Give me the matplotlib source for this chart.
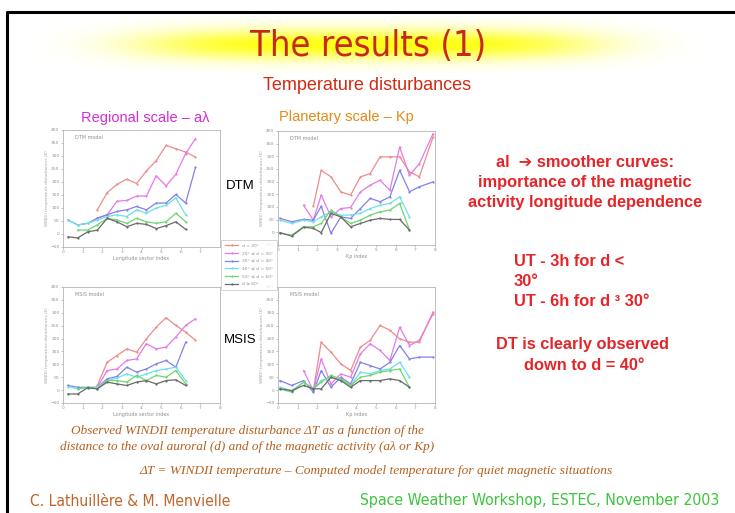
import numpy as np
import matplotlib
matplotlib.use("Agg")
import matplotlib.pyplot as plt

nan = np.nan

# abscisses communes
x_al = [0.25, 0.75, 1.25, 1.75, 2.25, 2.75, 3.25, 3.75, 4.25, 4.75, 5.25, 5.75, 6.25, 6.75]
x_kp = [0.1, 0.7, 1.3, 1.8, 2.2, 2.7, 3.2, 3.7, 4.2, 4.7, 5.2, 5.7, 6.2, 6.7, 7.2, 7.9]

legend_labels = ["d < 20°", "20° ≤ d < 30°", "30° ≤ d < 40°", "40° ≤ d < 50°", "50° ≤ d < 60°", "d ≥ 60°"]
serie_colors = ["#ec8c8c", "#e67ae6", "#8282ea", "#6ee0e8", "#6ed66e", "#6a6a6a"]

# DTM - echelle regionale (a lambda)
dtm_al = [
    [nan, nan, nan, 93, 159, 191, 211, 194, 243, 282, 341, 328, 315, 296],
    [nan, nan, nan, 61, 74, 126, 129, 146, 146, 224, 185, 230, 309, 367],
    [54, 35, 41, 61, 74, 87, 93, 106, 93, 119, 119, 152, 119, 256],
    [54, 35, 41, 54, 67, 74, 67, 93, 80, 100, 110, 139, 74, nan],
    [nan, 15, 15, 35, 60, 54, 41, 60, 47, 41, 47, 80, 47, nan],
    [-11, -15, 8, 15, 60, 47, 28, 41, 37, 21, 32, 47, 18, nan],
]
# DTM - echelle planetaire (Kp)
dtm_kp = [
    [nan, nan, nan, 103, 245, 219, 160, 147, 219, 232, 298, 298, 298, 239, 219, 376],
    [nan, nan, 107, 48, 147, 61, 94, 98, 160, 186, 206, 166, 337, 225, 271, 389],
    [55, 42, 51, 48, 103, -4, 61, 55, 94, 134, 121, 140, 245, 160, 180, 199],
    [48, 35, 48, 42, 61, 81, 68, 68, 75, 94, 107, 114, 140, 61, nan, nan],
    [-4, -11, 22, 22, 35, 88, 61, 35, 48, 68, 81, 88, 114, 9, nan, nan],
    [-1, -15, 20, 16, -1, 75, 61, 22, 35, 48, 55, 51, 51, 9, nan, nan],
]
# MSIS - echelle regionale
msis_al = [
    [nan, nan, nan, 18, 108, 134, 160, 147, 199, 244, 281, 251, 225, 193],
    [nan, nan, nan, 11, 76, 82, 115, 121, 180, 160, 167, 206, 251, 277],
    [18, 11, 11, 11, 44, 53, 89, 70, 82, 102, 115, 89, 186, nan],
    [14, 5, 9, 11, 37, 47, 63, 50, 63, 76, 82, 89, 37, nan],
    [nan, 5, 11, 5, 37, 37, 31, 57, 37, 57, 50, 76, 24, nan],
    [-15, -15, 9, 5, 31, 24, 18, 31, 37, 24, 37, 40, 18, nan],
]
# MSIS - echelle planetaire
msis_kp = [
    [nan, nan, nan, -2, 186, 147, 102, 76, 167, 193, 251, 232, 199, 186, 186, 303],
    [nan, nan, 76, -2, 121, 24, 63, 50, 141, 180, 154, 115, 244, 173, 193, 296],
    [37, 18, 37, -8, 76, 11, 50, 24, 108, 95, 82, 108, 173, 121, 128, 128],
    [11, -2, 31, 5, 37, 50, 37, 18, 70, 63, 76, 82, 108, 50, nan, nan],
    [5, -8, 31, 5, 31, 57, 44, 18, 50, 57, 70, 76, 82, 11, nan, nan],
    [5, -2, 18, 5, 5, 50, 37, 11, 37, 37, 37, 44, 37, 11, nan, nan],
]

fig = plt.figure(figsize=(7.35, 5.13), dpi=100, facecolor="white")
W, H = 735.0, 513.0

def px_axes(x0, y0, x1, y1, **kw):
    # boite en pixels (origine en haut a gauche) -> coordonnees figure
    return fig.add_axes([x0 / W, 1 - y1 / H, (x1 - x0) / W, (y1 - y0) / H], **kw)

def fx(x):
    return x / W

def fy(y):
    return 1 - y / H

# cadre de la diapositive
bg = px_axes(0, 0, 735, 513)
bg.set_xlim(0, 735)
bg.set_ylim(513, 0)
bg.axis("off")
bg.plot([7, 7, 735], [513, 12, 12], color="black", lw=2.2)

# halo jaune derriere le titre
glow = px_axes(25, 16, 710, 76)
gx = np.linspace(-1, 1, 300)
gy = np.linspace(-1, 1, 60)
GX, GY = np.meshgrid(gx, gy)
alpha = np.exp(-(np.abs(GX) / 0.66) ** 4) * np.exp(-((GY + 0.05) / 0.5) ** 2)
img = np.zeros((60, 300, 4))
img[..., 0] = 1.0
img[..., 1] = 1.0
img[..., 2] = 0.1
img[..., 3] = np.clip(alpha * 1.05, 0, 1)
glow.imshow(img, aspect="auto", interpolation="bilinear")
glow.axis("off")

fig.text(fx(368), fy(46), "The results (1)", ha="center", va="center", fontsize=26,
         color="#c8281c", family="DejaVu Sans", fontstretch="condensed")
fig.text(fx(367), fy(86), "Temperature disturbances", ha="center", va="center", fontsize=13,
         color="#d42a14", family="Liberation Sans")

fig.text(fx(145), fy(118), "Regional scale – aλ", ha="center", va="center", fontsize=10.5,
         color="#d62ed6", family="Liberation Sans")
fig.text(fx(346), fy(117), "Planetary scale – Kp", ha="center", va="center", fontsize=10.5,
         color="#e58a14", family="Liberation Sans")

def small_plot(box, xs, series, ticks_x, xlabel, model):
    ax = px_axes(*box)
    for vals, c in zip(series, serie_colors):
        ax.plot(xs, vals, color=c, lw=0.9, marker="o", ms=1.6, mew=0)
    ax.set_xlim(0, 8)
    ax.set_ylim(-50, 400)
    ax.set_xticks(ticks_x)
    ax.set_yticks(np.arange(-50, 401, 50))
    ax.tick_params(labelsize=3.2, colors="#909090", length=1.5, width=0.4, pad=1)
    for s in ax.spines.values():
        s.set_color("#b4b4b4")
        s.set_linewidth(0.6)
    ax.set_xlabel(xlabel, fontsize=3.5, color="#909090", labelpad=1)
    ax.set_ylabel("WINDII temperature disturbances (K)", fontsize=3, color="#a0a0a0", labelpad=1)
    ax.text(0.6, 370, model, fontsize=3.5, color="#909090", va="center")
    return ax

ax1 = small_plot((63, 130, 220, 247), x_al, dtm_al, range(0, 8), "Longitude sector index", "DTM model")
ax2 = small_plot((278, 131, 435, 245), x_kp, dtm_kp, range(0, 9), "Kp index", "DTM model")
ax3 = small_plot((63, 287, 220, 403), x_al, msis_al, range(0, 9), "Longitude sector index", "MSIS model")
ax4 = small_plot((278, 287, 435, 403), x_kp, msis_kp, range(0, 9), "Kp index", "MSIS model")

handles = ax1.get_lines()
leg = fig.legend(handles, legend_labels, loc="center", bbox_to_anchor=(fx(249), fy(265)),
                 fontsize=3.2, frameon=True, handlelength=3, labelspacing=0.8, borderpad=0.8)
leg.get_frame().set_edgecolor("#b0b0b0")
leg.get_frame().set_linewidth(0.5)
for t in leg.get_texts():
    t.set_color("#909090")

fig.text(fx(240), fy(186), "DTM", ha="center", va="center", fontsize=9.5, family="Liberation Sans")
fig.text(fx(240), fy(340), "MSIS", ha="center", va="center", fontsize=9.5, family="Liberation Sans")

# texte de droite
red = "#e4262a"
rkw = dict(fontsize=11.8, color=red, weight="bold", family="Liberation Sans", va="center")
fig.text(fx(585), fy(163), "al  ➔ smoother curves:", ha="center", **dict(rkw, family=["Liberation Sans", "DejaVu Sans"]))
fig.text(fx(585), fy(183), "importance of the magnetic", ha="center", **rkw)
fig.text(fx(585), fy(203), "activity longitude dependence", ha="center", **rkw)
fig.text(fx(514), fy(262), "UT - 3h for d <", ha="left", **rkw)
fig.text(fx(514), fy(282), "30°", ha="left", **rkw)
fig.text(fx(514), fy(302), "UT - 6h for d ³ 30°", ha="left", **rkw)
fig.text(fx(582), fy(345), "DT is clearly observed", ha="center", **rkw)
fig.text(fx(584), fy(365), "down to d = 40°", ha="center", **rkw)

# legende de la figure
brown = "#b4601e"
ckw = dict(fontsize=9.5, color=brown, style="italic", family="Liberation Serif", ha="center", va="center")
fig.text(fx(247), fy(431), "Observed WINDII temperature disturbance ΔT as a function of the", **ckw)
fig.text(fx(247), fy(447), "distance to the oval auroral (d) and of the magnetic activity (aλ or Kp)", **ckw)
fig.text(fx(376), fy(471), "ΔT = WINDII temperature – Computed model temperature for quiet magnetic situations",
         **dict(ckw, fontsize=9.6))

fig.text(fx(30), fy(501), "C. Lathuillère & M. Menvielle", ha="left", va="center", fontsize=11.2,
         color="#c0642a", family="DejaVu Sans", fontstretch="condensed")
fig.text(fx(719), fy(501), "Space Weather Workshop, ESTEC, November 2003", ha="right", va="center",
         fontsize=11.3, color="#3cc43c", family="DejaVu Sans", fontstretch="condensed")

fig.savefig("out.png", dpi=100, facecolor="white")
